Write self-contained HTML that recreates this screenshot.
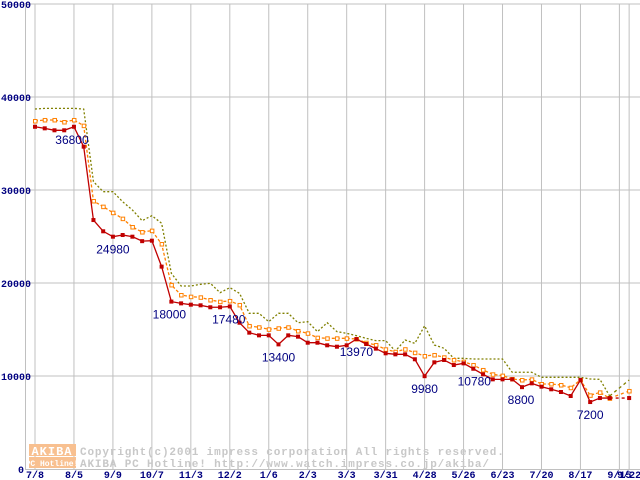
<!DOCTYPE html>
<html><head><meta charset="utf-8"><style>
body{margin:0;background:#fff;}
svg{display:block;font-family:"Liberation Mono","DejaVu Sans Mono",monospace;}
</style></head><body>
<svg id="chart" width="640" height="480" viewBox="0 0 640 480" xmlns="http://www.w3.org/2000/svg">
<g id="grid"></g>
<g id="wm">
  <rect x="29" y="444" width="47" height="12" fill="#f8c090"/>
  <rect x="29" y="457" width="47" height="11" fill="#f8c090"/>
  <text x="52" y="455" fill="#fff" font-size="12" font-weight="bold" text-anchor="middle" letter-spacing="1">AKIBA</text>
  <text x="52" y="466" fill="#fff" font-size="8" font-weight="bold" text-anchor="middle">PC Hotline!</text>
  <text x="80" y="455" fill="#c8c8c8" font-size="11" font-weight="bold" letter-spacing="0.85">Copyright(c)2001 impress corporation All rights reserved.</text>
  <text x="80" y="467" fill="#c8c8c8" font-size="11" font-weight="bold" letter-spacing="0.85">AKIBA PC Hotline!  http://www.watch.impress.co.jp/akiba/</text>
</g>
<g id="series"></g>
<g id="ann"></g>
<g id="axes"></g>
</svg>
<script>
const xLabels = ["7/8","8/5","9/9","10/7","11/3","12/2","1/6","2/3","3/3","3/31","4/28","5/26","6/23","7/20","8/17","9/15","9/22"];
const xLabelIdx = [0,4,8,12,16,20,24,28,32,36,40,44,48,52,56,60,61];
const yTicks = [0,10000,20000,30000,40000,50000];
const minPrice = [36800,36630,36420,36420,36800,34660,26770,25560,24980,25160,24980,24500,24550,21760,18000,17810,17670,17600,17390,17390,17480,15730,14660,14370,14370,13400,14370,14230,13580,13580,13300,13150,13300,13970,13440,12940,12440,12330,12330,11800,9980,11470,11720,11180,11360,10780,10180,9640,9640,9640,8800,9210,8850,8570,8280,7850,9570,7200,7630,7630,null,7630];
const avgPrice = [37420,37530,37530,37310,37530,36920,28820,28210,27560,26920,26020,25480,25630,24190,19790,18710,18530,18460,18170,17990,18070,17640,15380,15240,15020,15130,15240,14840,14590,14120,14050,14050,14050,13980,13580,13330,12870,12600,12880,12510,12150,12260,12010,11720,11540,11180,10650,10180,10040,9680,9570,9640,9140,9140,9030,8740,9570,7920,8240,7600,null,8390];
const maxPrice = [38710,38780,38780,38780,38780,38700,30900,29820,29820,28740,27850,26700,27240,26420,21040,19680,19680,19860,19970,18960,19500,18890,16740,16740,15840,16740,16740,15730,15840,14770,15730,14770,14590,14340,14050,13800,13800,12690,13870,13510,15400,13330,12980,11900,11900,11830,11830,11830,11830,10400,10400,10400,9860,9860,9860,9860,9860,9680,9640,7850,null,9570];
const annIdx = [4,8,14,20,25,33,40,45,50,57];
const annText = ["36800","24980","18000","17480","13400","13970","9980","10780","8800","7200"];
const annDx = [-2,0,-2,-1,0,0,0,1,-1,0];

const NS="http://www.w3.org/2000/svg";
const X0=35, STEP=9.74, Y0=469, YTOP=4, VMAX=50000;
const xs=i=>X0+i*STEP;
const ys=v=>Y0-(v/VMAX)*(Y0-YTOP);
function mk(tag,attrs,parent){const e=document.createElementNS(NS,tag);for(const k in attrs)e.setAttribute(k,attrs[k]);parent.appendChild(e);return e;}
const grid=document.getElementById('grid'),axes=document.getElementById('axes'),ser=document.getElementById('series'),ann=document.getElementById('ann');

yTicks.forEach(t=>{
  const y=ys(t);
  if(t>0){const l=mk('line',{x1:25,x2:640,y1:y,y2:y,stroke:'#c0c0c0','stroke-width':1},grid);
  
  }
  const tx=mk('text',{x:t===0?18:1,y:y+4,fill:'#000080','font-size':10,'font-weight':'bold'},axes);
  tx.textContent=String(t);
  
  
});
xLabelIdx.forEach((idx,k)=>{
  const x=xs(idx);
  const l=mk('line',{x1:x,x2:x,y1:YTOP,y2:Y0,stroke:'#c0c0c0','stroke-width':1},grid);
  
  
  const tx=mk('text',{x:x,y:478,fill:'#000080','font-size':10,'font-weight':'bold','text-anchor':'middle'},axes);
  tx.textContent=xLabels[k];
  
  
});
const ax=mk('path',{d:`M25.5 ${YTOP} V${Y0+0.5} H640`,stroke:'#c0c0c0','stroke-width':1,fill:'none'},axes);



function drawSeries(data,color,dash,name,marker){
  let d='',gap='';let last=null;
  data.forEach((v,i)=>{
    if(v===null)return;
    if(last!==null&&last!==i-1){gap+=`M${xs(last)} ${ys(data[last])} L${xs(i)} ${ys(v)} `;d+='M'+xs(i)+' '+ys(v)+' ';}
    else d+=(d?'L':'M')+xs(i)+' '+ys(v)+' ';
    last=i;
  });
  const p=mk('path',{d:d,stroke:color,'stroke-width':1.3,fill:'none','stroke-dasharray':dash||'none'},ser);
  
  
  if(gap){const g=mk('path',{d:gap,stroke:color,'stroke-width':1.3,fill:'none','stroke-dasharray':'3 3'},ser);
  
  }
  if(marker) data.forEach((v,i)=>{
    if(v===null)return;
    const r=marker==='fill'?mk('rect',{x:xs(i)-2,y:ys(v)-2,width:4,height:4,fill:color},ser)
      :mk('rect',{x:xs(i)-1.5,y:ys(v)-1.5,width:3.5,height:3.5,fill:'#fff',stroke:color,'stroke-width':1},ser);
    
    
  });
}
drawSeries(maxPrice,'#808000','2 2','max-price',null);
drawSeries(avgPrice,'#ff8000','3 2','avg-price','hollow');
drawSeries(minPrice,'#c00000',null,'min-price','fill');

annIdx.forEach((idx,k)=>{
  const v=minPrice[idx];
  const t=mk('text',{x:xs(idx)+annDx[k],y:ys(v)+17,fill:'#000080','font-size':12,'text-anchor':'middle','font-family':'"Liberation Sans",sans-serif'},ann);
  t.textContent=annText[k];
  
  
});
</script>
</body></html>
